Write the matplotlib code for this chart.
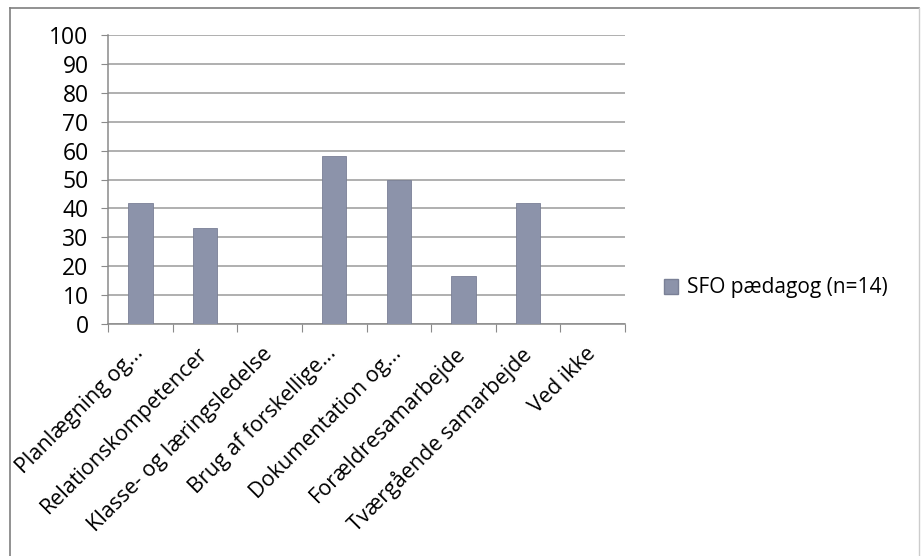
import matplotlib
matplotlib.use("Agg")
import matplotlib.pyplot as plt
import matplotlib.transforms as mtransforms
from matplotlib.patches import Patch
from matplotlib.lines import Line2D
import numpy as np

categories = ["Planlægning og...", "Relationskompetencer", "Klasse- og læringsledelse",
              "Brug af forskellige...", "Dokumentation og...", "Forældresamarbejde",
              "Tværgående samarbejde", "Ved ikke"]
values = [41.7, 33.3, 0, 58.3, 50.0, 16.7, 42.0, 0]
series_name = "SFO pædagog (n=14)"
yticks = [0, 10, 20, 30, 40, 50, 60, 70, 80, 90, 100]

plt.rcParams['font.family'] = ['Open Sans', 'DejaVu Sans']

fig = plt.figure(figsize=(9.22, 5.56), dpi=100)
ax = fig.add_axes([108/922, 1 - 324/556, 517/922, 289/556])

x = np.arange(len(categories))
bar_color = '#8c93aa'
ax.bar(x, values, width=0.38, color=bar_color, edgecolor='#7a8096', linewidth=0.6, zorder=3)

ax.set_xlim(-0.5, len(categories) - 0.5)
ax.set_ylim(0, 100)
ax.set_yticks(yticks)
ax.set_yticklabels([str(v) for v in yticks], fontsize=16.5)
ax.yaxis.grid(True, color='#9a9a9a', linewidth=1.1, zorder=0)
ax.set_axisbelow(True)
for s in ['top', 'right']:
    ax.spines[s].set_visible(False)
for s in ['left', 'bottom']:
    ax.spines[s].set_color('#8a8a8a')
    ax.spines[s].set_linewidth(1.1)
ax.tick_params(axis='y', length=5, color='#8a8a8a', pad=9)

# x ticks at category boundaries
ax.set_xticks(np.arange(-0.5, len(categories)), minor=False)
ax.set_xticklabels([''] * (len(categories) + 1))
ax.tick_params(axis='x', length=6, color='#8a8a8a')

offset = mtransforms.ScaledTranslation(-8/100, -19/100, fig.dpi_scale_trans)
for i, lab in enumerate(categories):
    ax.text(i, 0, lab, rotation=45, ha='right', va='top', rotation_mode='anchor',
            fontsize=15.5,
            transform=ax.transData + offset)

handles = [Patch(facecolor=bar_color, edgecolor='#7a8096', label=series_name)]
fig.legend(handles=handles, loc='center left', bbox_to_anchor=(645/922, 1 - 288/556),
           frameon=False, fontsize=15, handlelength=0.7, handleheight=0.7, handletextpad=0.4)

# outer frame
frame_color = '#7f7f7f'
fig.add_artist(Line2D([10/922, 10/922], [0, 1 - 8/556], transform=fig.transFigure, color=frame_color, lw=1.2))
fig.add_artist(Line2D([10/922, 919/922], [1 - 8/556, 1 - 8/556], transform=fig.transFigure, color=frame_color, lw=1.2))
fig.add_artist(Line2D([919/922, 919/922], [0, 1 - 8/556], transform=fig.transFigure, color='#cccccc', lw=1.0))

fig.savefig("out.png", dpi=100)
